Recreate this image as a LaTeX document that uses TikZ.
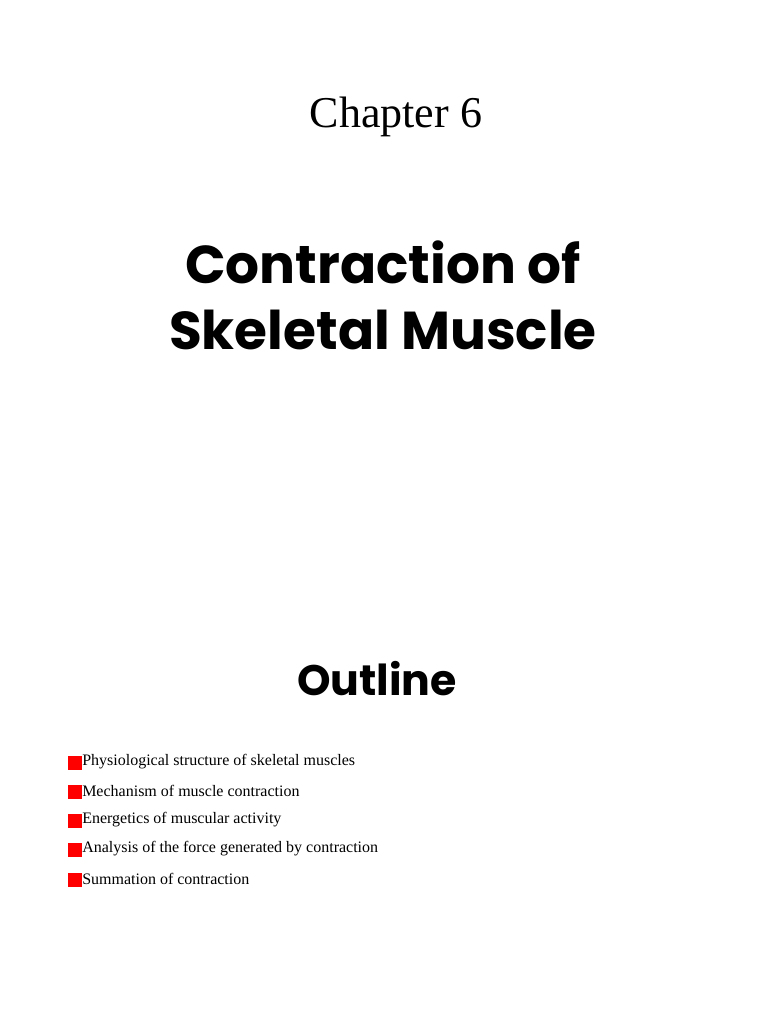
\documentclass[tikz,border=0pt]{standalone}
\usepackage{fontspec}
\setmainfont{Liberation Serif}
\newfontfamily\titlefont{Poppins}
\begin{document}
\begin{tikzpicture}[x=0.75pt,y=-0.75pt,
  bul/.style={fill=red,draw=none,minimum size=10.5pt,inner sep=0pt},
  item/.style={anchor=west,inner sep=0pt,font=\fontsize{12}{14}\selectfont}]
\useasboundingbox[fill=white] (0,0) rectangle (768,1024);
\node (ch) at (396,117) {\fontsize{33}{38}\selectfont Chapter 6};
\node (t1) at (383,262) {\titlefont\fontsize{40}{46}\selectfont\bfseries Contraction of};
\node (t2) at (383,330) {\titlefont\fontsize{40}{46}\selectfont\bfseries Skeletal Muscle};
\node (ol) at (377,679) {\titlefont\fontsize{32}{38}\selectfont\bfseries Outline};
\foreach \y/\t [count=\i] in {763/Physiological structure of skeletal muscles,
  792/Mechanism of muscle contraction,
  821/Energetics of muscular activity,
  850/Analysis of the force generated by contraction,
  880/Summation of contraction}{
  \node[bul] (b\i) at (75,\y) {};
  \node[item] (i\i) at (82,\y-1) {\t};
}
\end{tikzpicture}
\end{document}
